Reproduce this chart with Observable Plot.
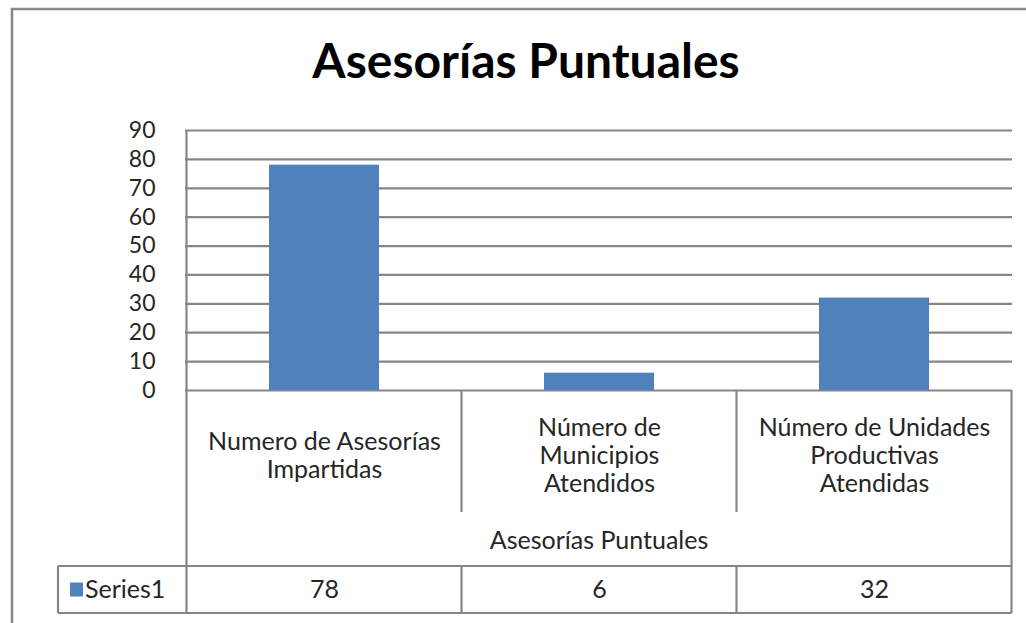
<!DOCTYPE html>
<html>
<head>
<meta charset="utf-8">
<script src="https://cdn.jsdelivr.net/npm/d3@7"></script>
<script src="https://cdn.jsdelivr.net/npm/@observablehq/plot@0.6"></script>
<style>
  html, body { margin: 0; padding: 0; background: #fff; }
  #chart { width: 1026px; height: 623px; overflow: hidden; }
</style>
</head>
<body>
<div id="chart"></div>
<script>
// ---- data ----
const chartTitle = "Asesorías Puntuales";
const groupLabel = "Asesorías Puntuales";
const seriesName = "Series1";
const categories = [
  "Numero de Asesorías\nImpartidas",
  "Número de\nMunicipios\nAtendidos",
  "Número de Unidades\nProductivas\nAtendidas"
];
const values = [78, 6, 32];
const yTicks = [0, 10, 20, 30, 40, 50, 60, 70, 80, 90];

// ---- layout / style ----
const W = 1026, H = 623;
const mL = 185, mR = 14, mT = 130, mB = 233;
const barColor = "#4f81bd";
const lineColor = "#868686";
const textColor = "#262626";
const font = "Lato, 'Open Sans', sans-serif";

const data = categories.map((c, i) => ({category: c, value: values[i]}));

const plot = Plot.plot({
  width: W, height: H,
  marginLeft: mL, marginRight: mR, marginTop: mT, marginBottom: mB,
  style: {fontFamily: font, background: "transparent", color: textColor, overflow: "visible"},
  x: {domain: categories, paddingInner: 0.6, paddingOuter: 0.3, axis: null},
  y: {domain: [0, 90], axis: null},
  marks: [
    Plot.ruleY(yTicks, {stroke: lineColor, strokeWidth: 2.2}),
    Plot.barY(data, {x: "category", y: "value", fill: barColor}),
    Plot.axisY(yTicks, {tickSize: 0, tickPadding: 30, fontSize: 23, fill: textColor, label: null}),
    Plot.text(data, {x: "category", text: "category", frameAnchor: "bottom", dy: 65,
      lineAnchor: "middle", lineHeight: 1.12, fontSize: 25, fill: textColor}),
    Plot.text(data, {x: "category", text: d => String(d.value), frameAnchor: "bottom", dy: 199,
      lineAnchor: "middle", fontSize: 25, fill: textColor})
  ]
});
document.getElementById("chart").appendChild(plot);

// ---- decorations derived from the scales ----
const svg = d3.select(plot);
const sx = plot.scale("x");
const sy = plot.scale("y");
const step = sx.step ?? (sx.range[1] - sx.range[0]) / categories.length;
const bw = sx.bandwidth ?? step * 0.4;
const centers = categories.map(c => sx.apply(c) + bw / 2);
const left = centers[0] - step / 2;
const right = centers[centers.length - 1] + step / 2;
const y0 = sy.apply(0);
const yTop = sy.apply(90);
const catBottom = y0 + 122;
const rowTop = y0 + 176;
const rowBottom = y0 + 223;
const legendLeft = 58;

const g = svg.append("g").attr("stroke", lineColor).attr("stroke-width", 2.2).attr("fill", "none");
// outer chart border
g.append("rect").attr("x", 12).attr("y", 9).attr("width", 1040).attr("height", 640).attr("stroke-width", 2.5);
// left axis line / table left edge
g.append("line").attr("x1", left).attr("x2", left).attr("y1", yTop).attr("y2", rowBottom);
// right edge of table
g.append("line").attr("x1", right).attr("x2", right).attr("y1", y0).attr("y2", rowBottom);
// category dividers
centers.slice(1).forEach(cx => {
  const bx = cx - step / 2;
  g.append("line").attr("x1", bx).attr("x2", bx).attr("y1", y0).attr("y2", catBottom);
  g.append("line").attr("x1", bx).attr("x2", bx).attr("y1", rowTop).attr("y2", rowBottom);
});
// row lines
g.append("line").attr("x1", legendLeft).attr("x2", right).attr("y1", rowTop).attr("y2", rowTop);
g.append("line").attr("x1", legendLeft).attr("x2", right).attr("y1", rowBottom).attr("y2", rowBottom);
g.append("line").attr("x1", legendLeft).attr("x2", legendLeft).attr("y1", rowTop).attr("y2", rowBottom);

// legend key
const rowMid = (rowTop + rowBottom) / 2;
svg.append("rect").attr("x", 70).attr("y", rowMid - 7).attr("width", 13).attr("height", 14).attr("fill", barColor);
svg.append("text").attr("x", 85).attr("y", rowMid).attr("dy", "0.35em").attr("text-anchor", "start")
  .attr("font-family", font).attr("font-size", 25).attr("fill", textColor).text(seriesName);

// group label
svg.append("text").attr("x", (left + right) / 2).attr("y", y0 + 150).attr("dy", "0.35em")
  .attr("text-anchor", "middle").attr("font-family", font).attr("font-size", 25)
  .attr("fill", textColor).text(groupLabel);

// title
svg.append("text").attr("x", 526).attr("y", 78)
  .attr("text-anchor", "middle").attr("font-family", font).attr("font-size", 48)
  .attr("font-weight", "bold").attr("fill", "#000").text(chartTitle);
</script>
</body>
</html>
